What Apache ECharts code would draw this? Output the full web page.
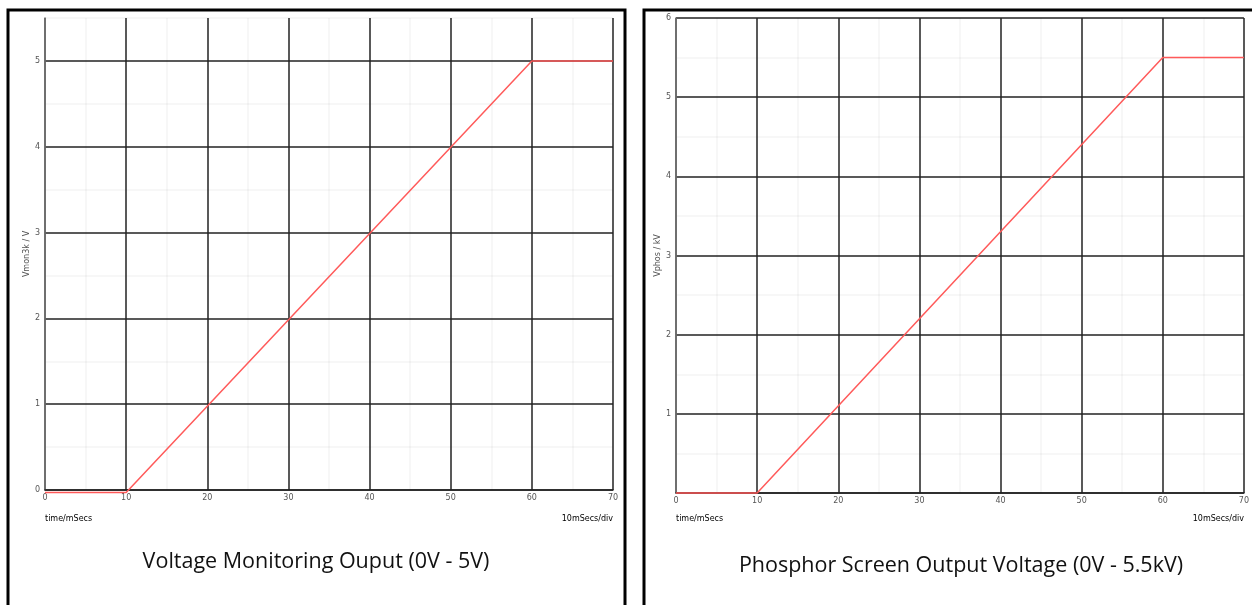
<!DOCTYPE html>
<html>
<head>
<meta charset="utf-8">
<script src="https://cdn.jsdelivr.net/npm/echarts@6/dist/echarts.min.js"></script>
<style>
  html, body { margin: 0; padding: 0; background: #fff; }
  #main { width: 1252px; height: 605px; }
</style>
</head>
<body>
<div id="main"></div>
<script>
(function () {
    // 数据
    var monTime = [0, 10, 60, 70];          // time / mSecs
    var monVolt = [-0.03, -0.03, 5, 5];     // Vmon3k / V
    var phosTime = [0, 10, 60, 70];
    var phosVolt = [0, 0, 5.5, 5.5];        // Vphos / kV
    var titles = ['Voltage Monitoring Ouput (0V - 5V)', 'Phosphor Screen Output Voltage (0V - 5.5kV)'];
    var yNames = ['Vmon3k / V', 'Vphos / kV'];

    function pairs(xs, ys) {
        return xs.map(function (x, i) { return [x, ys[i]]; });
    }

    var major = '#222', minor = 'rgba(0,0,0,0.045)';
    // 每 5ms 一条线，10ms 为黑色主线
    var xColors = ['#666'];
    for (var i = 1; i <= 14; i++) xColors.push(i % 2 ? minor : major);
    // y 轴每 0.5 一条线
    function yColors(n) {
        var c = [];
        for (var i = 0; i <= n; i++) c.push(i % 2 ? minor : major);
        return c;
    }
    var smallText = { color: '#555', fontSize: 8, fontFamily: 'DejaVu Sans' };

    function xAxis(gi) {
        return {
            type: 'value', gridIndex: gi, min: 0, max: 70, interval: 5,
            axisLine: { show: true, onZero: false, lineStyle: { color: major, width: 1.5 } },
            axisTick: { show: false },
            axisLabel: Object.assign({ margin: 4, formatter: function (v) { return v % 10 === 0 ? v : ''; } }, smallText),
            splitLine: { show: true, lineStyle: { color: xColors, width: 1.5 } }
        };
    }
    function yAxis(gi, max, showZero) {
        return {
            type: 'value', gridIndex: gi, min: 0, max: max, interval: 0.5,
            name: yNames[gi], nameLocation: 'middle', nameRotate: 90, nameGap: 14,
            nameTextStyle: smallText,
            axisLine: { show: true, lineStyle: { color: '#666', width: 1.5 } },
            axisTick: { show: false },
            axisLabel: Object.assign({ margin: 5, formatter: function (v) {
                if (v === 0 && !showZero) return '';
                return v % 1 === 0 ? v : '';
            } }, smallText),
            splitLine: { show: true, lineStyle: { color: yColors(Math.round(max * 2)), width: 1.5 } }
        };
    }

    var myChart = echarts.init(document.getElementById('main'));
    var option = {
        backgroundColor: '#fff',
        animation: false,
        grid: [
            { left: 45, right: 639, top: 18, bottom: 115 },
            { left: 676, right: 8, top: 18, bottom: 112 }
        ],
        xAxis: [xAxis(0), xAxis(1)],
        yAxis: [yAxis(0, 5.5, true), yAxis(1, 6, false)],
        series: [{
            type: 'line', xAxisIndex: 0, yAxisIndex: 0,
            data: pairs(monTime, monVolt), clip: false,
            symbol: 'none', lineStyle: { color: '#ff5a5a', width: 1.5 }, z: 5
        }, {
            type: 'line', xAxisIndex: 1, yAxisIndex: 1,
            data: pairs(phosTime, phosVolt), clip: false,
            symbol: 'none', lineStyle: { color: '#ff5a5a', width: 1.5 }, z: 5
        }],
        graphic: [
            { type: 'rect', shape: { x: 8, y: 10, width: 617, height: 620 },
              style: { fill: 'none', stroke: '#000', lineWidth: 3 } },
            { type: 'rect', shape: { x: 644, y: 10, width: 640, height: 620 },
              style: { fill: 'none', stroke: '#000', lineWidth: 3 } },
            { type: 'text', left: 45, top: 515, style: Object.assign({ text: 'time/mSecs' }, smallText) },
            { type: 'text', right: 1252 - 613, top: 515, style: Object.assign({ text: '10mSecs/div' }, smallText) },
            { type: 'text', left: 676, top: 515, style: Object.assign({ text: 'time/mSecs' }, smallText) },
            { type: 'text', right: 1252 - 1244, top: 515, style: Object.assign({ text: '10mSecs/div' }, smallText) },
            { type: 'text', x: 316, y: 562, style: { text: titles[0], fill: '#111', fontSize: 21.5, fontFamily: 'Open Sans', align: 'center', verticalAlign: 'middle' } },
            { type: 'text', x: 961, y: 566, style: { text: titles[1], fill: '#111', fontSize: 21.5, fontFamily: 'Open Sans', align: 'center', verticalAlign: 'middle' } }
        ]
    };
    myChart.setOption(option);
})()
</script>
</body>
</html>
